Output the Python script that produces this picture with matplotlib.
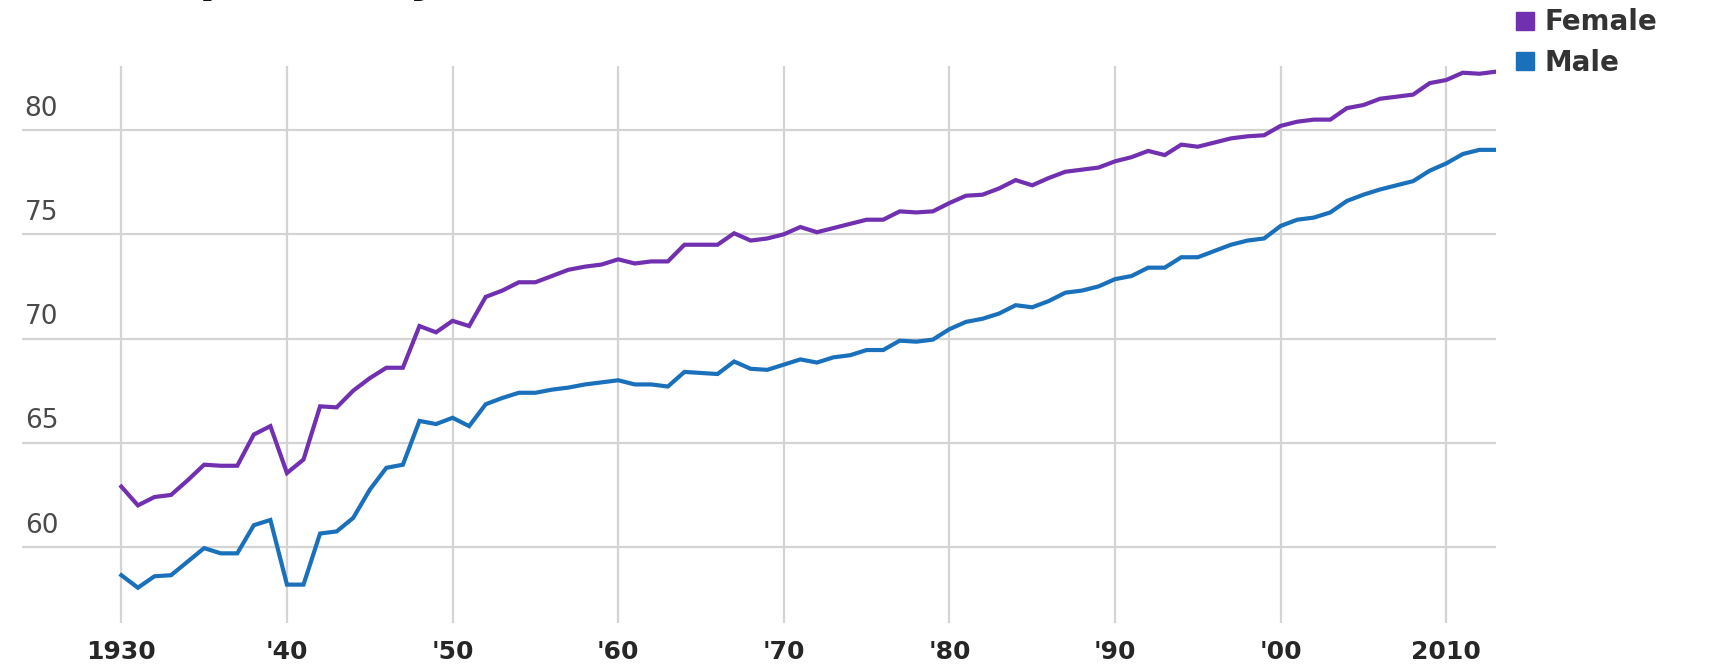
import numpy as np
import matplotlib.pyplot as plt
from matplotlib.lines import Line2D

years = np.arange(1930, 2014)

female = [62.9, 62.0, 62.4, 62.5, 63.2, 63.95, 63.9, 63.9, 65.4, 65.8,
          63.55, 64.2, 66.75, 66.7, 67.5, 68.1, 68.6, 68.6, 70.6, 70.3,
          70.85, 70.6, 72.0, 72.3, 72.7, 72.7, 73.0, 73.3, 73.45, 73.55,
          73.8, 73.6, 73.7, 73.7, 74.5, 74.5, 74.5, 75.05, 74.7, 74.8,
          75.0, 75.35, 75.1, 75.3, 75.5, 75.7, 75.7, 76.1, 76.05, 76.1,
          76.5, 76.85, 76.9, 77.2, 77.6, 77.35, 77.7, 78.0, 78.1, 78.2,
          78.5, 78.7, 79.0, 78.8, 79.3, 79.2, 79.4, 79.6, 79.7, 79.75,
          80.2, 80.4, 80.5, 80.5, 81.05, 81.2, 81.5, 81.6, 81.7, 82.25,
          82.4, 82.75, 82.7, 82.8]

male = [58.65, 58.05, 58.6, 58.65, 59.3, 59.95, 59.7, 59.7, 61.05, 61.3,
        58.2, 58.2, 60.65, 60.75, 61.4, 62.75, 63.8, 63.95, 66.05, 65.9,
        66.2, 65.8, 66.85, 67.15, 67.4, 67.4, 67.55, 67.65, 67.8, 67.9,
        68.0, 67.8, 67.8, 67.7, 68.4, 68.35, 68.3, 68.9, 68.55, 68.5,
        68.75, 69.0, 68.85, 69.1, 69.2, 69.45, 69.45, 69.9, 69.85, 69.95,
        70.45, 70.8, 70.95, 71.2, 71.6, 71.5, 71.8, 72.2, 72.3, 72.5,
        72.85, 73.0, 73.4, 73.4, 73.9, 73.9, 74.2, 74.5, 74.7, 74.8,
        75.4, 75.7, 75.8, 76.05, 76.6, 76.9, 77.15, 77.35, 77.55, 78.05,
        78.4, 78.85, 79.05, 79.05]

x_ticks = [1930, 1940, 1950, 1960, 1970, 1980, 1990, 2000, 2010]
x_labels = ["1930", "'40", "'50", "'60", "'70", "'80", "'90", "'00", "2010"]
y_ticks = [60, 65, 70, 75, 80]

female_color = "#7030b0"
male_color = "#1a70bb"

plt.rcParams['font.family'] = ['DejaVu Sans']

fig = plt.figure(figsize=(17.3, 6.67), dpi=100)
ax = fig.add_axes([0.0127, 0.066, 0.852, 0.835])

ax.plot(years, female, color=female_color, lw=3, solid_joinstyle='miter', zorder=3)
ax.plot(years, male, color=male_color, lw=3, solid_joinstyle='miter', zorder=3)

ax.set_xlim(1924, 2013)
ax.set_ylim(56.36, 83.07)
ax.set_xticks(x_ticks)
ax.set_xticklabels(x_labels, fontsize=18, fontweight='bold', color='#262626')
ax.set_yticks(y_ticks)
ax.set_yticklabels([])
ax.tick_params(length=0, pad=12)
ax.grid(True, color='#d4d4d4', lw=1.6)
ax.set_axisbelow(True)
for s in ax.spines.values():
    s.set_visible(False)

# y labels sit just above their gridlines
for v in y_ticks:
    ax.annotate(str(v), xy=(0, v), xycoords=('axes fraction', 'data'),
                xytext=(2, 6), textcoords='offset points',
                ha='left', va='bottom', fontsize=19, color='#4a4a4a')

handles = [Line2D([], [], marker='s', ls='none', ms=13, color=female_color),
           Line2D([], [], marker='s', ls='none', ms=13, color=male_color)]
fig.legend(handles, ["Female", "Male"], loc='upper left',
           bbox_to_anchor=(0.872, 0.996), frameon=False,
           prop={'size': 20, 'weight': 'bold'}, labelcolor='#333333',
           handletextpad=0.3, handlelength=0.8, labelspacing=0.45,
           borderpad=0.2, borderaxespad=0)

# title is cut off at the top edge in the reference
fig.text(0.012, 1.013, "Life Expectancy at Birth, Men and Women (UK)",
         ha='left', va='baseline', fontsize=34, fontweight='bold', color='#111111')

fig.savefig("out.png", dpi=100)
